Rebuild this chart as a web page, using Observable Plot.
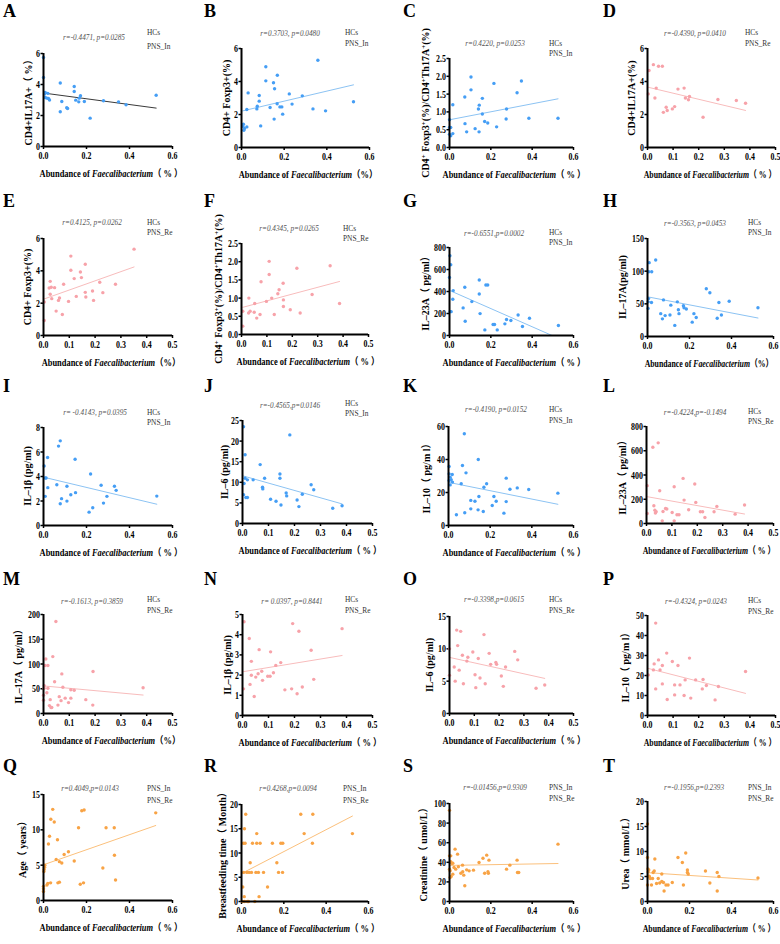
<!DOCTYPE html>
<html><head><meta charset="utf-8">
<script src="https://cdn.jsdelivr.net/npm/d3@7"></script>
<script src="https://cdn.jsdelivr.net/npm/@observablehq/plot@0.6"></script>
<style>
html,body{margin:0;padding:0;background:#fff;overflow:hidden;}
#fig{position:relative;width:780px;height:944px;overflow:hidden;font-family:"Liberation Serif","Times New Roman","Noto Sans CJK SC",serif;}
#fig svg{position:absolute;overflow:visible;}
.t{position:absolute;white-space:nowrap;line-height:1;}
.letter{font-weight:bold;font-size:18px;color:#000;}
.stat{font-style:italic;font-size:8.5px;color:#555;transform:translate(-50%,-50%) scaleX(0.85);}
.leg{font-size:9px;color:#333;transform:translate(0,-50%) scaleX(0.82);transform-origin:left center;}
.yl{font-weight:bold;font-size:10px;color:#000;transform:translate(-50%,-50%) rotate(-90deg);}
.xt{font-weight:bold;font-size:10px;color:#000;transform:translate(-50%,-50%) scaleX(0.84);}
.xt.edge{transform:translate(-50%,-50%) scaleX(0.78);}
sup{font-size:70%;vertical-align:0.5em;line-height:0;}
</style></head>
<body><div id="fig"></div>
<script>
// ---------- data ----------
const letters = ["A","B","C","D","E","F","G","H","I","J","K","L","M","N","O","P","Q","R","S","T"];

const ptsA = [[0,5.74],[0,4.45],[0.008,3.48],[0.005,3.38],[0.02,3.43],[0.008,3.16],[0.016,3.12],[0.023,3.1],[0.028,3.0],[0.078,4.1],[0.085,2.9],[0.078,2.24],[0.108,2.5],[0.112,2.45],[0.143,3.87],[0.143,3.55],[0.15,2.99],[0.166,3.12],[0.172,3.27],[0.164,2.88],[0.19,2.9],[0.217,1.83],[0.279,2.95],[0.349,2.88],[0.384,2.69],[0.524,3.31]];
const ptsB = [[0.009,1.41],[0.006,1.29],[0.014,1.15],[0.025,1.25],[0.011,1.05],[0.025,2.3],[0.031,3.31],[0.072,2.34],[0.074,2.5],[0.083,3.15],[0.083,2.81],[0.09,1.31],[0.114,4.89],[0.114,4.04],[0.134,2.42],[0.15,3.92],[0.155,3.56],[0.153,1.72],[0.168,4.38],[0.167,2.65],[0.18,2.46],[0.189,2.46],[0.193,2.02],[0.224,3.25],[0.237,2.63],[0.285,3.13],[0.335,2.34],[0.358,5.29],[0.394,2.22],[0.525,2.77]];
const ptsC = [[0,0.78],[0,0.56],[0.006,0.56],[0,0.37],[0.006,0.33],[0.016,0.39],[0.016,1.2],[0.074,1.42],[0.075,0.67],[0.083,0.44],[0.104,1.98],[0.104,1.62],[0.124,0.53],[0.14,1.08],[0.144,1.19],[0.143,0.44],[0.159,1.38],[0.159,0.94],[0.17,0.73],[0.185,0.69],[0.215,1.8],[0.228,0.58],[0.276,1.08],[0.274,0.8],[0.327,1.54],[0.348,1.87],[0.384,0.82],[0.525,0.82]];
const ptsD = [[0.003,3.25],[0.006,4.67],[0.023,5.02],[0.029,3.0],[0.034,3.6],[0.043,4.92],[0.058,4.92],[0.062,2.13],[0.073,2.44],[0.077,2.24],[0.097,2.34],[0.106,2.48],[0.119,3.54],[0.143,3.6],[0.148,3.0],[0.16,2.89],[0.164,3.09],[0.217,1.83],[0.275,2.91],[0.347,2.85],[0.383,2.68]];
const ptsE = [[0.003,0.93],[0.003,2.07],[0.022,2.94],[0.026,3.35],[0.03,2.98],[0.026,2.55],[0.032,2.28],[0.043,2.96],[0.049,1.51],[0.058,2.17],[0.062,2.32],[0.073,1.3],[0.078,3.17],[0.097,2.11],[0.106,4.91],[0.106,4.04],[0.119,3.52],[0.127,2.42],[0.143,3.93],[0.147,3.58],[0.162,4.41],[0.162,2.67],[0.164,2.38],[0.19,2.75],[0.194,2.17],[0.218,3.29],[0.23,2.65],[0.279,3.17],[0.351,5.34]];
const ptsF = [[0.005,0.23],[0.005,0.64],[0.029,1.0],[0.028,0.59],[0.034,0.64],[0.05,0.61],[0.052,0.85],[0.06,0.45],[0.073,0.55],[0.077,1.45],[0.098,0.91],[0.109,2.01],[0.109,1.65],[0.119,1.0],[0.129,0.55],[0.143,1.12],[0.148,1.23],[0.164,1.41],[0.165,0.95],[0.165,0.77],[0.192,0.68],[0.218,1.82],[0.231,0.59],[0.278,1.1],[0.349,1.89],[0.386,0.85]];
const ptsG = [[0.002,725],[0.006,643],[0,528],[0.003,217],[0.008,217],[0.018,408],[0.016,329],[0.066,251],[0.074,438],[0.076,130],[0.108,308],[0.144,504],[0.144,377],[0.148,199],[0.171,51],[0.176,459],[0.185,459],[0.211,100],[0.218,100],[0.231,51],[0.268,106],[0.276,145],[0.297,136],[0.332,187],[0.353,82],[0.387,157],[0.527,91]];
const ptsH = [[0.003,43],[0.005,58],[0.003,53],[0.008,113],[0.006,99],[0.02,99],[0.019,52],[0.039,117],[0.063,35],[0.071,27],[0.076,56],[0.084,32],[0.107,33],[0.111,48],[0.13,17],[0.142,53],[0.147,41],[0.15,35],[0.171,47],[0.174,44],[0.185,42],[0.213,22],[0.221,35],[0.232,29],[0.28,73],[0.297,67],[0.332,28],[0.34,52],[0.352,33],[0.389,54],[0.526,44]];
const ptsI = [[0.003,4.86],[0.008,3.88],[0.012,3.88],[0.008,2.38],[0.019,5.55],[0.02,3.09],[0.062,3.33],[0.07,6.48],[0.078,6.91],[0.078,1.78],[0.084,2.19],[0.109,3.2],[0.109,1.99],[0.127,2.51],[0.147,5.41],[0.149,2.68],[0.212,1.09],[0.219,4.2],[0.229,1.45],[0.268,3.28],[0.279,1.83],[0.295,2.38],[0.33,3.2],[0.338,2.87],[0.527,2.4]];
const ptsJ = [[0.004,23.5],[0.01,16.7],[0.006,9.7],[0.004,7.0],[0.01,11.0],[0.013,6.3],[0.019,6.3],[0.019,10.6],[0.041,10.6],[0.068,14.3],[0.077,8.8],[0.078,8.4],[0.085,11.0],[0.108,5.9],[0.129,5.4],[0.144,12.0],[0.144,11.0],[0.148,4.5],[0.168,7.4],[0.17,6.7],[0.182,21.5],[0.21,5.7],[0.217,4.1],[0.23,7.1],[0.264,9.4],[0.274,8.2],[0.347,3.7],[0.383,4.3]];
const ptsK = [[0.003,35.8],[0.003,31.3],[0.008,29.3],[0.003,27.3],[0.008,24.6],[0.013,27.7],[0.018,30.9],[0.019,26.3],[0.038,6.5],[0.061,25.3],[0.067,36.4],[0.076,55.6],[0.078,7.7],[0.084,31.9],[0.107,15.2],[0.107,10.1],[0.127,14.7],[0.143,40],[0.142,9.5],[0.146,17.6],[0.167,8.5],[0.17,23.2],[0.183,25.3],[0.21,12.1],[0.218,17.6],[0.229,14.7],[0.266,7.5],[0.277,28.7],[0.277,14.5],[0.295,22.0],[0.33,22.8],[0.385,21.8],[0.525,19.6]];
const ptsL = [[0.003,312],[0.003,83],[0.025,629],[0.029,146],[0.033,110],[0.035,86],[0.038,97],[0.046,665],[0.052,270],[0.062,22],[0.065,99],[0.075,124],[0.08,119],[0.101,91],[0.109,303],[0.109,22],[0.12,72],[0.128,72],[0.144,372],[0.148,193],[0.166,113],[0.19,326],[0.194,174],[0.212,97],[0.221,97],[0.23,50],[0.266,97],[0.277,141],[0.349,77],[0.386,152]];
const ptsM = [[0,27],[0,37],[0.003,56],[0.002,51],[0.006,97],[0.009,110],[0.013,42],[0.017,97],[0.017,51],[0.023,16],[0.026,28],[0.029,12],[0.032,12],[0.036,115],[0.043,64],[0.048,186],[0.056,17],[0.061,34],[0.068,26],[0.071,80],[0.075,53],[0.084,31],[0.097,22],[0.106,31],[0.106,48],[0.119,47],[0.164,28],[0.192,85],[0.191,17],[0.386,52]];
const ptsN = [[0.004,1.32],[0.006,4.64],[0.026,3.81],[0.029,1.54],[0.034,2.68],[0.034,1.99],[0.045,0.94],[0.051,1.9],[0.06,2.07],[0.064,3.26],[0.074,2.19],[0.077,1.74],[0.097,1.94],[0.106,1.94],[0.108,3.15],[0.119,2.12],[0.128,2.48],[0.147,2.62],[0.163,1.27],[0.189,1.32],[0.193,4.55],[0.21,1.08],[0.217,4.17],[0.23,1.41],[0.264,3.23],[0.274,1.79],[0.383,4.3]];
const ptsO = [[0,10.0],[0,5.9],[0.019,7.2],[0.023,5.0],[0.029,12.9],[0.033,10.5],[0.045,12.7],[0.039,6.7],[0.052,9.0],[0.056,4.6],[0.07,8.1],[0.074,8.7],[0.094,9.5],[0.103,6.0],[0.106,4.0],[0.116,8.5],[0.123,5.5],[0.139,12.2],[0.144,4.6],[0.16,9.3],[0.166,7.6],[0.187,7.9],[0.19,7.6],[0.209,5.8],[0.217,4.2],[0.226,7.2],[0.263,9.6],[0.275,8.3],[0.349,3.9],[0.384,4.4]];
const ptsP = [[0.003,20.3],[0.023,22.8],[0.026,25.8],[0.032,46.2],[0.032,13.3],[0.043,27.8],[0.049,22.8],[0.058,25],[0.058,15.8],[0.075,31.2],[0.077,8],[0.097,27],[0.106,15.3],[0.106,10.3],[0.119,25],[0.127,15.3],[0.143,10],[0.147,17.8],[0.164,28.7],[0.169,8.7],[0.188,17.8],[0.214,13.3],[0.217,18],[0.23,15],[0.264,7.8],[0.277,14.5],[0.383,22]];
const ptsQ = [[0,2.0],[0,1.66],[0,1.28],[0.002,4.1],[0.003,4.4],[0.005,4.7],[0.006,5.0],[0.016,2.2],[0.02,2.4],[0.023,8.0],[0.028,9.1],[0.033,2.5],[0.034,11.5],[0.043,12.9],[0.05,11.1],[0.059,5.8],[0.065,8.6],[0.067,2.5],[0.074,2.6],[0.074,5.5],[0.085,5.3],[0.096,6.5],[0.116,6.9],[0.143,5.6],[0.163,10.3],[0.171,2.3],[0.178,12.7],[0.189,12.8],[0.186,2.5],[0.276,4.6],[0.291,10.3],[0.329,10.3],[0.33,6.4],[0.335,2.9],[0.522,12.4]];
const ptsR = [[0.006,3],[0.013,1],[0.014,0],[0.02,18],[0.017,12],[0.014,15],[0.005,0],[0.009,12],[0.01,6],[0.025,6],[0.028,0],[0.033,0],[0.036,6],[0.041,8],[0.047,6],[0.052,12],[0.063,0],[0.068,6],[0.072,12],[0.072,14],[0.08,6],[0.083,1],[0.088,12],[0.104,6],[0.123,3],[0.146,12],[0.167,8],[0.175,6],[0.186,12],[0.195,12],[0.194,6],[0.28,18],[0.296,14],[0.337,18],[0.335,12],[0.524,14]];
const ptsS = [[0,93],[0,46.6],[0.003,31.3],[0.003,24.5],[0.006,40.5],[0.006,46.6],[0,33],[0.008,25.5],[0.011,39],[0.016,39],[0.016,27.9],[0.022,34.7],[0.03,33],[0.027,53.4],[0.039,48.3],[0.043,35.4],[0.055,28.9],[0.063,37.1],[0.064,30.3],[0.069,26.9],[0.074,16],[0.083,32.3],[0.095,31.3],[0.116,32],[0.143,39.8],[0.162,44.2],[0.17,28.9],[0.18,47.3],[0.186,30.3],[0.188,28.9],[0.191,42.2],[0.276,33],[0.292,37.1],[0.327,42.2],[0.329,29.6],[0.335,29.6],[0.525,58.5]];
const ptsT = [[0,15.5],[0,8.8],[0.002,6.5],[0.003,5.9],[0.005,5.1],[0,3.3],[0.009,5.0],[0.006,6.3],[0.013,4.6],[0.019,3.3],[0.024,4.6],[0.027,5.8],[0.032,6.1],[0.035,8.5],[0.043,3.6],[0.051,4.6],[0.058,3.7],[0.068,4.0],[0.068,5.5],[0.076,3.8],[0.079,2.1],[0.088,3.3],[0.098,3.3],[0.118,3.8],[0.145,8.8],[0.166,7.8],[0.171,3.3],[0.182,9.7],[0.19,6.3],[0.19,5.8],[0.194,5.5],[0.276,6.1],[0.297,3.7],[0.332,5.8],[0.332,2.1],[0.34,5.0],[0.526,4.7]];

const stats = ["r=-0.4471,  p=0.0285","r=0.3703,  p=0.0480","r=0.4220,  p=0.0253","r=-0.4390, p=0.0410",
  "r=0.4125,  p=0.0262","r=0.4345,  p=0.0265","r=-0.6551,p=0.0002","r=-0.3563, p=0.0453",
  "r= -0.4143, p=0.0395","r=-0.4565,p=0.0146","r=-0.4190, p=0.0152","r=-0.4224,p=-0.1494",
  "r=-0.1613, p=0.3859","r= 0.0397, p=0.8441","r=-0.3398,p=0.0615","r=-0.4324, p=0.0243",
  "r=0.4049,p=0.0143","r=0.4268,p=0.0094","r=-0.01456,p=0.9309","r=-0.1956,p=0.2393"];

const groups = ["In","In","In","Re","Re","Re","In","In","In","In","In","Re","Re","Re","Re","Re","Both","Both","Both","Both"];
const legendText = {In:["HCs","PNS_In"], Re:["HCs","PNS_Re"], Both:["PNS_In","PNS_Re"]};

const sup = "<sup>+</sup>";
const yLabels = ["CD4+IL17A+（ %）","CD4+ Foxp3+(%)",`CD4${sup} Foxp3${sup}(%)/CD4${sup}Th17A${sup}(%)`,"CD4+IL17A+(%)",
  "CD4+ Foxp3+(%)",`CD4${sup} Foxp3${sup}(%)/CD4${sup}Th17A${sup}(%)`,"IL–23A（ pg/ml）","IL–17A(pg/ml)",
  "IL–1β (pg/ml)","IL–6 (pg/ml)","IL–10（ pg/m l）","IL–23A（ pg/ml）",
  "IL–17A（ pg/ml）","IL–1β (pg/ml)","IL–6 (pg/ml)","IL–10（ pg/m l）",
  "Age（ years）","Breastfeeding time（ Month）","Creatinine（ umol/L）","Urea（ mmol/L）"];
const xSuffix = ["（ % ）","（%）","（ % ）","（ % ）","（%）","（ % ）","（ % ）","（%）","（ % ）","（ % ）",
  "（ % ）","（ % ）","（%）","（ % ）","（ % ）","（ % ）","（ % ）","（ % ）","（ % ）","（ % ）"];

const xMax = [0.6,0.6,0.6,0.5,0.5,0.5,0.6,0.6,0.6,0.5,0.6,0.5,0.5,0.5,0.5,0.5,0.6,0.6,0.6,0.6];
const xTicks6 = [0,0.2,0.4,0.6];
const xTicks5 = [0,0.1,0.2,0.3,0.4,0.5];
const yTicks = [[0,2,4,6],[0,2,4,6],[0,0.5,1,1.5,2,2.5],[0,2,4,6],
  [0,2,4,6],[0,0.5,1,1.5,2,2.5],[0,200,400,600,800],[0,50,100,150],
  [0,2,4,6,8],[0,5,10,15,20,25],[0,20,40,60],[0,200,400,600,800],
  [0,50,100,150,200],[0,1,2,3,4,5],[0,5,10,15],[0,10,20,30,40,50],
  [0,5,10,15],[0,5,10,15,20],[0,20,40,60,80,100],[0,5,10,15,20]];
const points = [ptsA,ptsB,ptsC,ptsD,ptsE,ptsF,ptsG,ptsH,ptsI,ptsJ,ptsK,ptsL,ptsM,ptsN,ptsO,ptsP,ptsQ,ptsR,ptsS,ptsT];

// ---------- layout (pixel geometry of each panel) ----------
const frames = [
 [43,172,53,146],[241,369,48,147],[449,573,58,147],[647,775,48,147],
 [43,172,238,335],[241,368,243,334],[449,573,247,335],[647,773,238,336],
 [43,172,427,525],[242,372,420,523],[448,573,426,525],[646,773,426,523],
 [43,172,614,713],[242,372,614,715],[449,573,616,713],[647,775,615,715],
 [43,172,794,900],[241,368,804,901],[449,573,803,901],[647,773,801,901]];
const yLabelOff = [14,14,23,15,15,22,23,24,15,17,21,23,24,14,19,21,20,18,25,21];
const statPos = [[94,37],[290,33],[495,43],[695,33],[92,222],[289,228],[494,233],[695,223],[95,412],[290,405],[496,409],[695,412],[92,601],[292,601],[494,599],[696,601],[90,788],[288,788],[495,787],[694,787]];
const legPos = [[147,32,46],[345,32,43],[549,43,53],[745,32,43],[147,222,232],[343,228,238],[549,232,242],[748,222,232],[147,412,422],[345,403,413],[549,409,420],[748,411,421],[147,599,610],[345,599,610],[549,599,610],[748,600,611],[147,788,800],[343,788,800],[549,787,798],[748,787,798]];
const letterCols = [3,204,403,603];
const letterRows = [5,195,380,573,760];

const palette = {
  In:{dot:"#459ef5", line:"#8cc3f3"},
  Re:{dot:"#f7a2a9", line:"#f8bcbc"},
  Both:{dot:"#f8a345", line:"#fbc07c"}
};

const fig = document.getElementById("fig");
function addText(cls, html, x, y){
  const d = document.createElement("div");
  d.className = "t " + cls;
  d.innerHTML = html;
  d.style.left = x + "px";
  d.style.top = y + "px";
  fig.appendChild(d);
  return d;
}
// narrow the tick labels horizontally around their anchor (condensed look of the original)
function condense(svg, k){
  svg.querySelectorAll('g[aria-label$="tick label"] text').forEach(t => {
    const tr = t.getAttribute("transform");
    if (tr) t.setAttribute("transform", `${tr} scale(${k},1)`);
  });
}

const ML = 40, MR = 14, MT = 6, MB = 22;
points.forEach((pts, i) => {
  const [x0,x1,y0,y1] = frames[i];
  const col = palette[groups[i]];
  const lineColor = i === 0 ? "#3a3a3a" : col.line;
  const yFmt = (yTicks[i].some(v => !Number.isInteger(v))) ? d3.format(".1f") : d3.format("d");
  const svg = Plot.plot({
    width: ML + (x1 - x0) + MR,
    height: MT + (y1 - y0) + MB,
    marginLeft: ML, marginRight: MR, marginTop: MT, marginBottom: MB,
    style: {fontFamily: '"Liberation Serif","Times New Roman",serif', fontWeight: "bold", fontSize: "11px", color: "#000", background: "none", overflow: "visible"},
    x: {domain: [0, xMax[i]]},
    y: {domain: [0, yTicks[i][yTicks[i].length - 1]]},
    marks: [
      Plot.axisX({ticks: xMax[i] === 0.6 ? xTicks6 : xTicks5, tickFormat: d3.format(".1f"), tickSize: 3, tickPadding: 2, strokeWidth: 1.5, label: null}),
      Plot.axisY({ticks: yTicks[i], tickFormat: yFmt, tickSize: 2.5, tickPadding: 1, strokeWidth: 1.5, label: null}),
      Plot.linearRegressionY(pts, {x: d => d[0], y: d => d[1], stroke: lineColor, strokeWidth: 1, ci: 0, clip: true}),
      Plot.dot(pts, {x: d => d[0], y: d => d[1], r: 1.7, fill: col.dot}),
      Plot.ruleY([0], {strokeWidth: 2, stroke: "#000"}),
      Plot.ruleX([0], {strokeWidth: 2, stroke: "#000"})
    ]
  });
  condense(svg, 0.72);
  svg.style.left = (x0 - ML) + "px";
  svg.style.top = (y0 - MT) + "px";
  fig.appendChild(svg);

  addText("letter", letters[i], letterCols[i % 4], letterRows[Math.floor(i / 4)] - 3);
  addText("stat", stats[i], statPos[i][0], statPos[i][1]);
  const lg = legendText[groups[i]];
  addText("leg", lg[0], legPos[i][0], legPos[i][1]);
  addText("leg", lg[1], legPos[i][0], legPos[i][2]);
  addText("yl", yLabels[i], x0 - yLabelOff[i], (y0 + y1) / 2);
  const edge = (i % 4 === 3);
  addText("xt" + (edge ? " edge" : ""), "Abundance of <i>Faecalibacterium</i>" + xSuffix[i], (x0 + x1) / 2 + (edge ? -1 : 3), y1 + 28);
});
</script>
</body></html>
